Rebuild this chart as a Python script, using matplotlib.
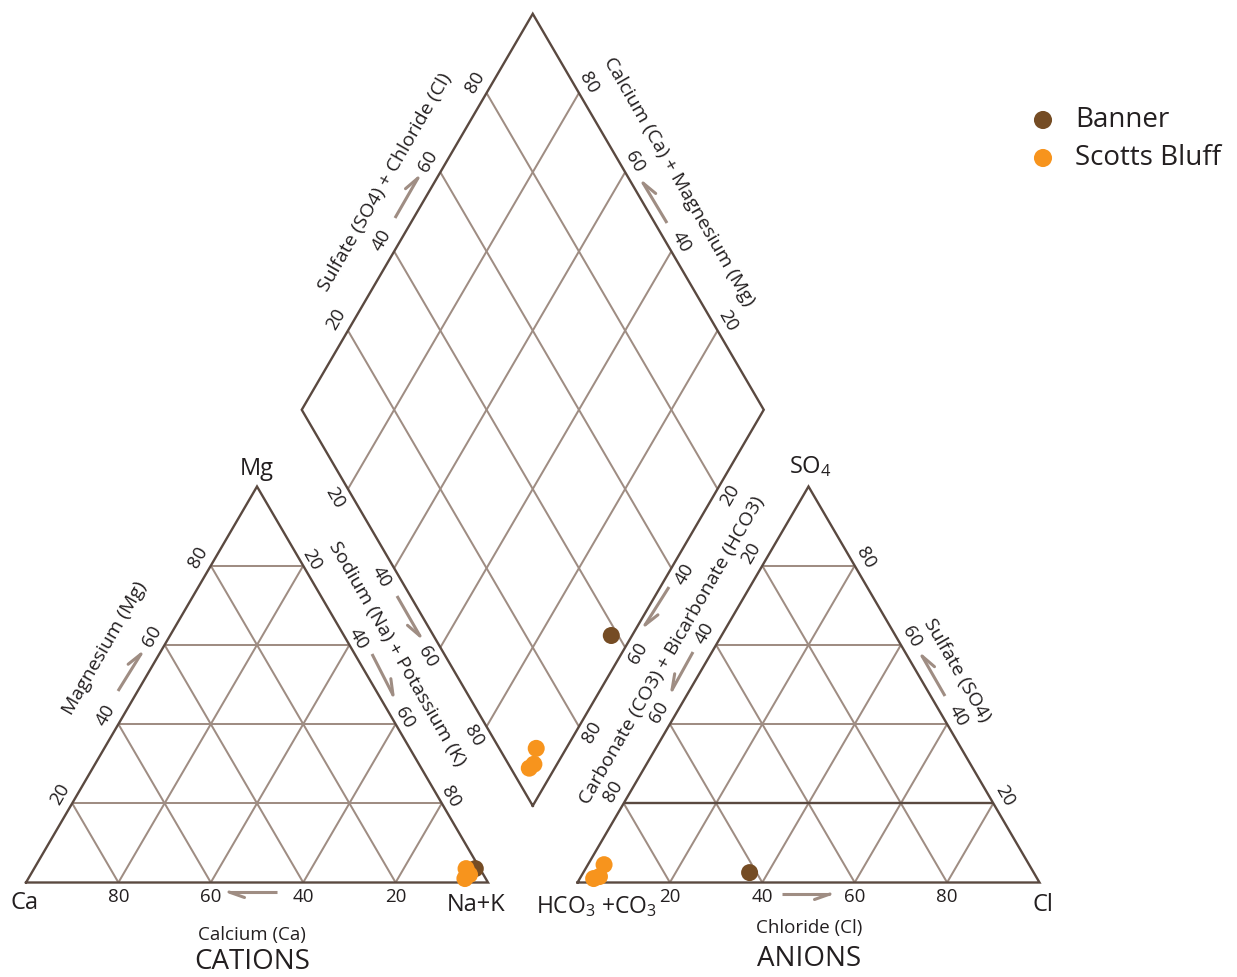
import numpy as np
import matplotlib
matplotlib.use("Agg")
import matplotlib.pyplot as plt

plt.rcParams["font.family"] = ["Open Sans", "DejaVu Sans"]
plt.rcParams["mathtext.fontset"] = "custom"
plt.rcParams["mathtext.rm"] = "Open Sans"
plt.rcParams["mathtext.it"] = "Open Sans"

# ---- water-chemistry data (percent of total milliequivalents) ----
sample_site = ["Banner", "Scotts Bluff", "Scotts Bluff", "Scotts Bluff"]
ca = [1.0, 3.0, 3.0, 4.5]
mg = [3.5, 3.5, 2.0, 1.0]
na_k = [95.5, 93.5, 95.0, 94.5]
hco3 = [61.5, 92.0, 94.5, 96.0]
so4 = [2.5, 4.5, 1.5, 1.0]
cl = [36.0, 3.5, 4.0, 3.0]

site_names = ["Banner", "Scotts Bluff"]
site_colors = ["#754c24", "#f7941d"]
tick_values = [20, 40, 60, 80]

# ---- styling ----
TEXT = "#231f20"
EDGE = "#5a4940"
GRID = "#9f8d83"

# ---- layout of the Piper diagram (figure pixels, y downward) ----
W, H = 1237, 977
SIDE = 462.0
TRI_H = 396.0
BASE_Y = 882.5
CAT_X0 = 26.0
AN_X0 = 577.5
GAP = AN_X0 - (CAT_X0 + SIDE)
DB_X = CAT_X0 + SIDE + GAP / 2
DB_Y = BASE_Y - (GAP / 2) * TRI_H / (SIDE / 2)


def tern(x0, right, top):
    """Position in a ternary triangle from right-vertex and top-vertex fractions."""
    return x0 + SIDE * (right + top / 2.0), BASE_Y - TRI_H * top


def diamond(a, b):
    """a = fraction Ca+Mg (toward left vertex), b = fraction SO4+Cl (toward right vertex)."""
    return DB_X + SIDE / 2.0 * (b - a), DB_Y - TRI_H * (a + b)


fig = plt.figure(figsize=(W / 100, H / 100), dpi=100)
ax = fig.add_axes([0, 0, 1, 1])
ax.set_xlim(0, W)
ax.set_ylim(H, 0)
ax.axis("off")

GRID_LW = 1.45
EDGE_LW = 1.7


def seg(p, q, color=GRID, lw=GRID_LW, z=1):
    ax.plot([p[0], q[0]], [p[1], q[1]], color=color, lw=lw, zorder=z,
            solid_capstyle="butt")


# ---- triangles ----
for x0 in (CAT_X0, AN_X0):
    for t in tick_values:
        f = t / 100.0
        seg(tern(x0, 0, f), tern(x0, 1 - f, f))          # constant top component
        seg(tern(x0, f, 0), tern(x0, f, 1 - f))          # constant right component
        seg(tern(x0, 1 - f, 0), tern(x0, 0, 1 - f))      # constant left component
    tri = [tern(x0, 0, 0), tern(x0, 1, 0), tern(x0, 0, 1), tern(x0, 0, 0)]
    ax.plot([p[0] for p in tri], [p[1] for p in tri], color=EDGE, lw=EDGE_LW,
            zorder=2, solid_joinstyle="miter")

# darker 20 % sulfate line in the anion triangle
seg(tern(AN_X0, 0, 0.2), tern(AN_X0, 0.8, 0.2), color=EDGE, lw=EDGE_LW, z=2)

# ---- diamond ----
for t in tick_values:
    f = t / 100.0
    seg(diamond(f, 0), diamond(f, 1))
    seg(diamond(0, f), diamond(1, f))
dia = [diamond(0, 0), diamond(1, 0), diamond(1, 1), diamond(0, 1), diamond(0, 0)]
ax.plot([p[0] for p in dia], [p[1] for p in dia], color=EDGE, lw=EDGE_LW,
        zorder=2, solid_joinstyle="miter")

# ---- tick labels ----
TICK_FS = 13.5


def lab(xy, off, txt, rot=0, fs=TICK_FS):
    ax.text(xy[0] + off[0], xy[1] + off[1], txt, fontsize=fs, color=TEXT,
            rotation=rot, rotation_mode="anchor", ha="center", va="center")


for t in tick_values:
    f = t / 100.0
    # cations
    lab(tern(CAT_X0, 1 - f, 0), (0, 14), str(t))                 # calcium
    lab(tern(CAT_X0, 0, f), (-12.5, -9), str(t), 60)             # magnesium
    lab(tern(CAT_X0, f, 1 - f), (9, -6), str(t), -60)            # sodium + potassium
    # anions
    lab(tern(AN_X0, f, 0), (0, 14), str(t))                      # chloride
    lab(tern(AN_X0, 0, 1 - f), (-11, -12), str(t), 60)           # carbonate + bicarbonate
    lab(tern(AN_X0, 1 - f, f), (11, -8), str(t), -60)            # sulfate
    # diamond
    lab(diamond(1 - f, 0), (-13, 9), str(t), -60)                # sodium + potassium
    lab(diamond(1, f), (-12, -11), str(t), 60)                   # sulfate + chloride
    lab(diamond(f, 1), (10, -10), str(t), -60)                   # calcium + magnesium
    lab(diamond(0, 1 - f), (13, 6), str(t), 60)                  # carbonate + bicarbonate

# ---- axis titles along the edges ----
EDGE_FS = 14
edge_titles = [
    ("Magnesium (Mg)", (105, 648), 60),
    ("Sodium (Na) + Potassium (K)", (397, 654), -60),
    ("Sulfate (SO4) + Chloride (Cl)", (385, 182), 60),
    ("Calcium (Ca) + Magnesium (Mg)", (679, 182), -60),
    ("Carbonate (CO3) + Bicarbonate (HCO3)", (672, 650), 60),
    ("Sulfate (SO4)", (957, 670), -60),
]
for txt, (x, y), rot in edge_titles:
    ax.text(x, y, txt, fontsize=EDGE_FS, color=TEXT, rotation=rot,
            rotation_mode="anchor", ha="center", va="center")

# ---- direction arrows (shaft + single barb) ----
arrows = [
    ((118, 691), (141, 654), -1),
    ((372, 654), (393, 695), -1),
    ((397, 596), (420, 636), 1),
    ((395, 218), (418, 178), -1),
    ((667, 223), (643, 183), 1),
    ((669, 587), (645, 625), -1),
    ((693, 652), (672, 690), 1),
    ((945, 696), (922, 656), 1),
    ((277, 892), (229, 892), -1),
    ((782, 894), (830, 894), 1),
]
for (x1, y1), (x2, y2), side in arrows:
    d = np.array([x2 - x1, y2 - y1], float)
    d /= np.hypot(*d)
    n = np.array([-d[1], d[0]]) * side
    tip = np.array([x2, y2], float)
    barb = tip - d * 15.5 + n * 5.5
    ax.plot([x1, x2], [y1, y2], color=GRID, lw=2.2, solid_capstyle="butt", zorder=2)
    ax.plot([tip[0], barb[0]], [tip[1], barb[1]], color=GRID, lw=2.2,
            solid_capstyle="round", zorder=2)

# ---- vertex and group labels ----
VFS = 17
ax.text(24, 903, "Ca", fontsize=VFS, color=TEXT, ha="center", va="center")
ax.text(476, 905, "Na+K", fontsize=VFS, color=TEXT, ha="center", va="center")
ax.text(257, 469, "Mg", fontsize=VFS, color=TEXT, ha="center", va="center")
ax.text(596, 907, r"HCO$_3$ +CO$_3$", fontsize=16.5, color=TEXT, ha="center", va="center")
ax.text(1043, 905, "Cl", fontsize=VFS, color=TEXT, ha="center", va="center")
ax.text(810, 467, r"SO$_4$", fontsize=VFS, color=TEXT, ha="center", va="center")

ax.text(252, 935, "Calcium (Ca)", fontsize=13.5, color=TEXT, ha="center", va="center")
ax.text(252, 962, "CATIONS", fontsize=20, color=TEXT, ha="center", va="center")
ax.text(809, 928, "Chloride (Cl)", fontsize=13.5, color=TEXT, ha="center", va="center")
ax.text(809, 959, "ANIONS", fontsize=20, color=TEXT, ha="center", va="center")

# ---- samples ----
MS = 150
order = sorted(range(len(sample_site)), key=lambda i: site_names.index(sample_site[i]))
for i in order:
    c = site_colors[site_names.index(sample_site[i])]
    cx, cy = tern(CAT_X0, na_k[i] / 100.0, mg[i] / 100.0)
    axx, ayy = tern(AN_X0, cl[i] / 100.0, so4[i] / 100.0)
    dx, dy = diamond((ca[i] + mg[i]) / 100.0, (so4[i] + cl[i]) / 100.0)
    ax.scatter([cx, axx, dx], [cy, ayy, dy], s=MS, color=c, edgecolors="none", zorder=4)

# ---- legend ----
for k, (name, c) in enumerate(zip(site_names, site_colors)):
    y = 120 + 38 * k
    ax.scatter([1043], [y], s=170, color=c, edgecolors="none", zorder=4)
    ax.text(1075, y, name, fontsize=20, color=TEXT, ha="left", va="center")

fig.savefig("out.png", dpi=100)
